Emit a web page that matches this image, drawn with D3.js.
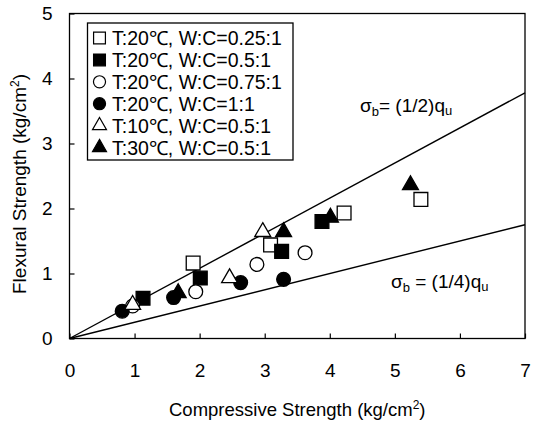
<!DOCTYPE html>
<html>
<head>
<meta charset="utf-8">
<script src="https://d3js.org/d3.v7.min.js"></script>
<style>
  body { margin: 0; background: #fff; }
  svg { font-family: "Liberation Sans", Arial, sans-serif; }
  .axis text { font-size: 19px; fill: #000; }
  .axis line { stroke: #000; stroke-width: 1.2px; }
</style>
</head>
<body>
<svg id="chart" width="534" height="421"></svg>
<script>
// values: [compressive, flexural]
const openSquare   = [[1.90, 1.16], [3.09, 1.44], [4.22, 1.93], [5.40, 2.14]];
const fillSquare   = [[1.13, 0.62], [2.01, 0.93], [3.26, 1.34], [3.88, 1.80]];
const openCircle   = [[0.97, 0.50], [1.94, 0.72], [2.88, 1.14], [3.62, 1.32]];
const fillCircle   = [[0.81, 0.42], [1.60, 0.63], [2.63, 0.86], [3.29, 0.91]];
const openTriangle = [[0.97, 0.52], [2.46, 0.93], [2.97, 1.64]];
const fillTriangle = [[1.67, 0.70], [3.29, 1.64], [4.01, 1.86], [5.24, 2.36]];

const legendLabels = [
  "T:20℃, W:C=0.25:1",
  "T:20℃, W:C=0.5:1",
  "T:20℃, W:C=0.75:1",
  "T:20℃, W:C=1:1",
  "T:10℃, W:C=0.5:1",
  "T:30℃, W:C=0.5:1"
];

// reference lines sigma_b = k * q_u, end points at q_u = 7
const halfLine = [[0, 0], [7, 3.78]];
const quarterLine = [[0, 0], [7, 1.75]];

const xTicks = [0, 1, 2, 3, 4, 5, 6, 7];
const yTicks = [0, 1, 2, 3, 4, 5];

const series = [
  { data: openSquare,   shape: d3.symbolSquare,   fill: "#fff" },
  { data: fillSquare,   shape: d3.symbolSquare,   fill: "#000" },
  { data: openCircle,   shape: d3.symbolCircle,   fill: "#fff" },
  { data: fillCircle,   shape: d3.symbolCircle,   fill: "#000" },
  { data: openTriangle, shape: d3.symbolTriangle, fill: "#fff" },
  { data: fillTriangle, shape: d3.symbolTriangle, fill: "#000" }
];
const symSize = (shape, big) => {
  if (shape === d3.symbolSquare) return big ? 190 : 140;
  if (shape === d3.symbolCircle) return big ? 150 : 115;
  return big ? 110 : 85;
};

const svg = d3.select("#chart");
const pLeft = 69.5, pRight = 525, pTop = 13.5, pBottom = 338.5;

const x = d3.scaleLinear().domain([0, 7]).range([pLeft, pRight]);
const y = d3.scaleLinear().domain([0, 5]).range([pBottom, pTop]);

// axes with inward ticks
svg.append("g")
  .attr("class", "axis")
  .attr("transform", `translate(0,${pBottom})`)
  .call(d3.axisBottom(x).tickValues(xTicks).tickFormat(d3.format("d"))
    .tickSizeInner(-5).tickSizeOuter(0).tickPadding(25))
  .call(g => g.select(".domain").remove());

svg.append("g")
  .attr("class", "axis")
  .attr("transform", `translate(${pLeft},0)`)
  .call(d3.axisLeft(y).tickValues(yTicks).tickFormat(d3.format("d"))
    .tickSizeInner(-5).tickSizeOuter(0).tickPadding(17))
  .call(g => g.select(".domain").remove());

// frame
svg.append("rect")
  .attr("x", pLeft).attr("y", pTop)
  .attr("width", pRight - pLeft).attr("height", pBottom - pTop)
  .attr("fill", "none").attr("stroke", "#000").attr("stroke-width", 1.3);

// reference lines
const line = d3.line().x(d => x(d[0])).y(d => y(d[1]));
[halfLine, quarterLine].forEach(l => {
  svg.append("path").attr("d", line(l))
    .attr("fill", "none").attr("stroke", "#000").attr("stroke-width", 1.4);
});

// annotations
function sigma(tx, ty, frac) {
  const t = svg.append("text").attr("x", tx).attr("y", ty)
    .attr("font-size", 19).attr("fill", "#000");
  t.append("tspan").text("σ");
  t.append("tspan").attr("font-size", 13).attr("dy", 4).text("b");
  t.append("tspan").attr("dy", -4).text(frac);
  t.append("tspan").text("q");
  t.append("tspan").attr("font-size", 13).attr("dy", 3).text("u");
}
sigma(360, 112, "= (1/2)");
sigma(391, 288, " = (1/4)");

// points
series.forEach(s => {
  svg.append("g").selectAll("path")
    .data(s.data)
    .join("path")
    .attr("transform", d => `translate(${x(d[0])},${y(d[1])})`)
    .attr("d", d3.symbol().type(s.shape).size(symSize(s.shape, true)))
    .attr("fill", s.fill)
    .attr("stroke", "#000")
    .attr("stroke-width", 1.3);
});

// legend
const lg = svg.append("g");
lg.append("rect")
  .attr("x", 87.5).attr("y", 23).attr("width", 205.5).attr("height", 137)
  .attr("fill", "#fff").attr("stroke", "#000").attr("stroke-width", 1.3);
series.forEach((s, i) => {
  const cy = 38 + i * 21.9;
  lg.append("path")
    .attr("transform", `translate(99.5,${cy})`)
    .attr("d", d3.symbol().type(s.shape).size(symSize(s.shape, false)))
    .attr("fill", s.fill).attr("stroke", "#000").attr("stroke-width", 1.2);
  lg.append("text")
    .attr("x", 112).attr("y", cy).attr("dy", "0.36em")
    .attr("font-size", 19.5).attr("fill", "#000")
    .text(legendLabels[i]);
});

// axis titles
const xt = svg.append("text")
  .attr("x", (pLeft + pRight) / 2).attr("y", 416)
  .attr("text-anchor", "middle").attr("font-size", 18.5).attr("fill", "#000");
xt.append("tspan").text("Compressive Strength (kg/cm");
xt.append("tspan").attr("font-size", 12).attr("dy", -7).text("2");
xt.append("tspan").attr("dy", 7).text(")");

const yt = svg.append("text")
  .attr("transform", "translate(26,184) rotate(-90)")
  .attr("text-anchor", "middle").attr("font-size", 19).attr("fill", "#000");
yt.append("tspan").text("Flexural Strength (kg/cm");
yt.append("tspan").attr("font-size", 12).attr("dy", -7).text("2");
yt.append("tspan").attr("dy", 7).text(")");
</script>
</body>
</html>
